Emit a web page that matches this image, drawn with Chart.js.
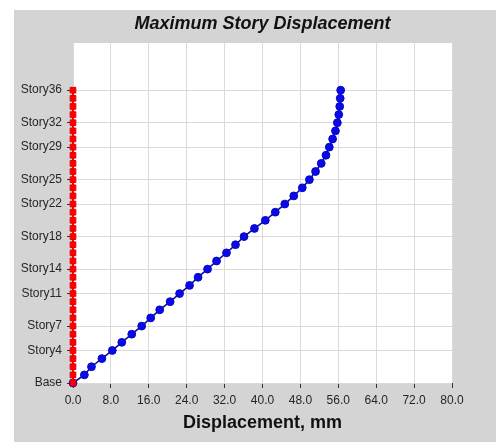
<!DOCTYPE html>
<html>
<head>
<meta charset="utf-8">
<script src="https://cdn.jsdelivr.net/npm/chart.js@4.4.1/dist/chart.umd.min.js"></script>
<style>
  html, body { margin: 0; padding: 0; background: #ffffff; }
  #wrap { position: absolute; left: 14px; top: 10px; width: 482px; height: 432px; background: #d4d4d4; }
  canvas { display: block; }
</style>
</head>
<body>
<div id="wrap"><canvas id="c" width="482" height="432"></canvas></div>
<script>
// ---- data ----
const storyLevels = [0,1,2,3,4,5,6,7,8,9,10,11,12,13,14,15,16,17,18,19,20,21,22,23,24,25,26,27,28,29,30,31,32,33,34,35,36];
const displacementX = [0,2.4,3.9,6.1,8.3,10.3,12.4,14.5,16.4,18.3,20.5,22.5,24.6,26.4,28.4,30.3,32.4,34.3,36.1,38.3,40.6,42.7,44.7,46.6,48.4,49.9,51.2,52.4,53.4,54.1,54.8,55.4,55.8,56.1,56.3,56.4,56.5];
const displacementY = [0,0,0,0,0,0,0,0,0,0,0,0,0,0,0,0,0,0,0,0,0,0,0,0,0,0,0,0,0,0,0,0,0,0,0,0,0];
const yTickLevels = [0,4,7,11,14,18,22,25,29,32,36];
const yTickLabels = ["Base","Story4","Story7","Story11","Story14","Story18","Story22","Story25","Story29","Story32","Story36"];
const xTickValues = [0,8,16,24,32,40,48,56,64,72,80];
const chartTitle = "Maximum Story Displacement";
const xAxisTitle = "Displacement, mm";

const FONT = "Arial, 'Liberation Sans', Helvetica, sans-serif";

const plotBg = {
  id: 'plotBg',
  beforeDraw(chart) {
    const {ctx, chartArea: a} = chart;
    ctx.save();
    ctx.fillStyle = '#ffffff';
    ctx.fillRect(a.left, a.top, a.right - a.left, a.bottom - a.top);
    ctx.restore();
  }
};

new Chart(document.getElementById('c'), {
  type: 'line',
  data: {
    datasets: [
      {
        label: 'Y',
        data: storyLevels.map((s, i) => ({x: displacementY[i], y: s})),
        borderColor: '#ff0000',
        backgroundColor: '#ff0000',
        pointBackgroundColor: '#ff0000',
        pointBorderColor: '#e00000',
        pointStyle: 'rect',
        pointRadius: 4,
        pointBorderWidth: 1,
        borderWidth: 2,
        clip: false
      },
      {
        label: 'X',
        data: storyLevels.map((s, i) => ({x: displacementX[i], y: s})),
        borderColor: '#10108a',
        backgroundColor: '#0a0ae6',
        pointBackgroundColor: '#0a0ae6',
        pointBorderColor: '#0606c8',
        pointStyle: 'circle',
        pointRadius: 3.9,
        pointBorderWidth: 1,
        borderWidth: 1.6,
        clip: false
      }
    ]
  },
  options: {
    responsive: false,
    animation: false,
    devicePixelRatio: 1,
    layout: { padding: { left: 0, right: 44, top: 0, bottom: 0 } },
    plugins: {
      legend: { display: false },
      tooltip: { enabled: false },
      title: { display: false }
    },
    scales: {
      x: {
        type: 'linear',
        position: 'bottom',
        min: 0, max: 80,
        afterBuildTicks(scale) { scale.ticks = xTickValues.map(v => ({value: v})); },
        afterFit(scale) { scale.height = 59; },
        border: { display: false },
        grid: { color: '#dadada', lineWidth: 1, tickColor: '#333333', tickLength: 5, drawTicks: true },
        ticks: {
          color: '#262626',
          font: { family: FONT, size: 12 },
          padding: 5,
          maxRotation: 0,
          autoSkip: false,
          callback: v => Number(v).toFixed(1)
        },
        title: {
          display: true,
          text: xAxisTitle,
          color: '#111111',
          font: { family: FONT, size: 18, weight: 'bold' },
          padding: { top: 0, bottom: 8 }
        }
      },
      xTop: {
        type: 'linear',
        axis: 'x',
        position: 'top',
        min: 0, max: 80,
        afterFit(scale) { scale.height = 33; },
        border: { display: false },
        grid: { display: false, drawTicks: false },
        ticks: { display: false },
        title: {
          display: true,
          text: chartTitle,
          color: '#111111',
          font: { family: FONT, size: 18, weight: 'bold', style: 'italic' },
          padding: { top: 3, bottom: 0 }
        }
      },
      y: {
        type: 'linear',
        min: 0, max: 41.8,
        afterBuildTicks(scale) { scale.ticks = yTickLevels.map(v => ({value: v})); },
        afterFit(scale) { scale.width = 59; },
        border: { display: false },
        grid: { color: '#dadada', lineWidth: 1, tickColor: '#333333', tickLength: 6, drawTicks: true },
        ticks: {
          color: '#262626',
          font: { family: FONT, size: 12 },
          padding: 5,
          autoSkip: false,
          callback: v => yTickLabels[yTickLevels.indexOf(v)] || ''
        }
      }
    }
  },
  plugins: [plotBg]
});
</script>
</body>
</html>
